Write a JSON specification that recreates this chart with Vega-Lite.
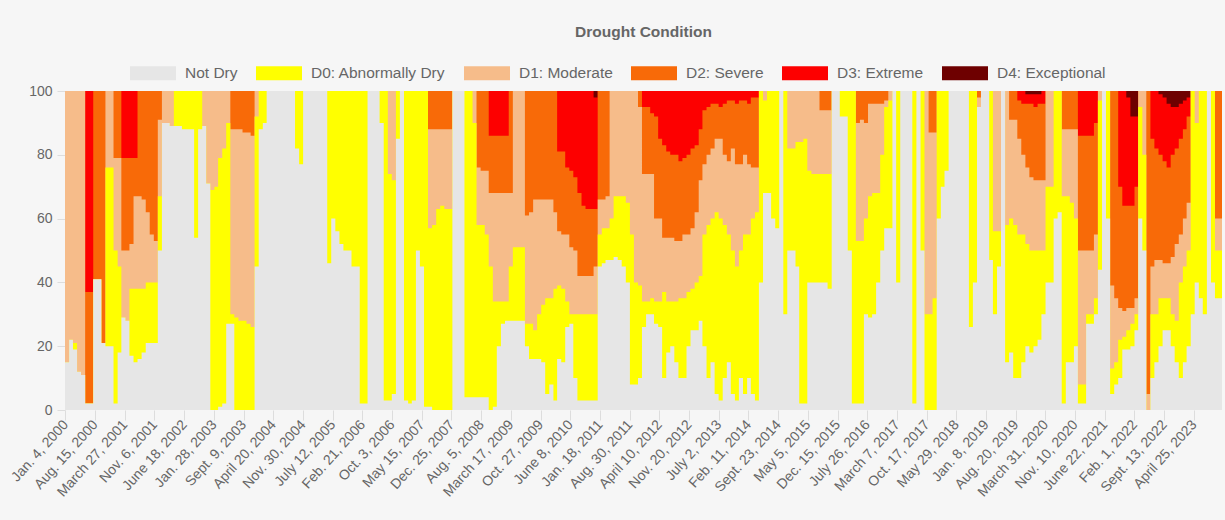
{
"$schema": "https://vega.github.io/schema/vega-lite/v6.json",
"width": 1157,
"height": 319,
"autosize": {"type": "none"},
"padding": {"left": 65, "top": 91, "right": 3, "bottom": 110},
"background": "#f6f6f6",
"title": {"text": "Drought Condition", "fontSize": 15.5, "fontWeight": "bold", "color": "#666666", "font": "Liberation Sans", "anchor": "middle", "offset": 10},
"data": {"values": [
{"date":"2000-01-01","nd":15,"d0":15,"d1":100,"d2":100,"d3":100},
{"date":"2000-02-01","nd":22,"d0":22,"d1":100,"d2":100,"d3":100},
{"date":"2000-03-01","nd":19,"d0":21,"d1":100,"d2":100,"d3":100},
{"date":"2000-04-01","nd":12,"d0":12,"d1":100,"d2":100,"d3":100},
{"date":"2000-05-01","nd":11,"d0":11,"d1":100,"d2":100,"d3":100},
{"date":"2000-06-01","nd":2,"d0":2,"d1":2,"d2":37,"d3":100},
{"date":"2000-07-01","nd":2,"d0":2,"d1":2,"d2":37,"d3":100},
{"date":"2000-08-01","nd":41,"d0":41,"d1":41,"d2":100,"d3":100},
{"date":"2000-09-01","nd":41,"d0":41,"d1":41,"d2":100,"d3":100},
{"date":"2000-10-01","nd":21,"d0":21,"d1":21,"d2":100,"d3":100},
{"date":"2000-11-01","nd":20,"d0":76,"d1":100,"d2":100,"d3":100},
{"date":"2000-12-01","nd":20,"d0":76,"d1":100,"d2":100,"d3":100},
{"date":"2001-01-01","nd":2,"d0":50,"d1":79,"d2":100,"d3":100},
{"date":"2001-02-01","nd":18,"d0":45,"d1":79,"d2":100,"d3":100},
{"date":"2001-03-01","nd":29,"d0":29,"d1":50,"d2":79,"d3":100},
{"date":"2001-04-01","nd":28,"d0":28,"d1":50,"d2":79,"d3":100},
{"date":"2001-05-01","nd":17,"d0":38,"d1":52,"d2":79,"d3":100},
{"date":"2001-06-01","nd":15,"d0":38,"d1":67,"d2":79,"d3":100},
{"date":"2001-07-01","nd":16,"d0":38,"d1":67,"d2":100,"d3":100},
{"date":"2001-08-01","nd":18,"d0":38,"d1":66,"d2":100,"d3":100},
{"date":"2001-09-01","nd":21,"d0":40,"d1":62,"d2":100,"d3":100},
{"date":"2001-10-01","nd":21,"d0":40,"d1":55,"d2":100,"d3":100},
{"date":"2001-11-01","nd":21,"d0":40,"d1":53,"d2":100,"d3":100},
{"date":"2001-12-01","nd":50,"d0":67,"d1":91,"d2":100,"d3":100},
{"date":"2002-01-01","nd":90,"d0":90,"d1":100,"d2":100,"d3":100},
{"date":"2002-02-01","nd":90,"d0":90,"d1":100,"d2":100,"d3":100},
{"date":"2002-03-01","nd":89,"d0":89,"d1":100,"d2":100,"d3":100},
{"date":"2002-04-01","nd":89,"d0":100,"d1":100,"d2":100,"d3":100},
{"date":"2002-05-01","nd":89,"d0":100,"d1":100,"d2":100,"d3":100},
{"date":"2002-06-01","nd":88,"d0":100,"d1":100,"d2":100,"d3":100},
{"date":"2002-07-01","nd":88,"d0":100,"d1":100,"d2":100,"d3":100},
{"date":"2002-08-01","nd":88,"d0":100,"d1":100,"d2":100,"d3":100},
{"date":"2002-09-01","nd":54,"d0":100,"d1":100,"d2":100,"d3":100},
{"date":"2002-10-01","nd":88,"d0":100,"d1":100,"d2":100,"d3":100},
{"date":"2002-11-01","nd":89,"d0":89,"d1":100,"d2":100,"d3":100},
{"date":"2002-12-01","nd":71,"d0":71,"d1":100,"d2":100,"d3":100},
{"date":"2003-01-01","nd":0,"d0":69,"d1":100,"d2":100,"d3":100},
{"date":"2003-02-01","nd":0,"d0":70,"d1":100,"d2":100,"d3":100},
{"date":"2003-03-01","nd":1,"d0":79,"d1":100,"d2":100,"d3":100},
{"date":"2003-04-01","nd":2,"d0":82,"d1":100,"d2":100,"d3":100},
{"date":"2003-05-01","nd":27,"d0":90,"d1":100,"d2":100,"d3":100},
{"date":"2003-06-01","nd":27,"d0":30,"d1":88,"d2":100,"d3":100},
{"date":"2003-07-01","nd":0,"d0":29,"d1":88,"d2":100,"d3":100},
{"date":"2003-08-01","nd":0,"d0":28,"d1":88,"d2":100,"d3":100},
{"date":"2003-09-01","nd":0,"d0":28,"d1":87,"d2":100,"d3":100},
{"date":"2003-10-01","nd":0,"d0":27,"d1":87,"d2":100,"d3":100},
{"date":"2003-11-01","nd":0,"d0":26,"d1":86,"d2":100,"d3":100},
{"date":"2003-12-01","nd":45,"d0":92,"d1":100,"d2":100,"d3":100},
{"date":"2004-01-01","nd":88,"d0":100,"d1":100,"d2":100,"d3":100},
{"date":"2004-02-01","nd":90,"d0":100,"d1":100,"d2":100,"d3":100},
{"date":"2004-03-01","nd":100,"d0":100,"d1":100,"d2":100,"d3":100},
{"date":"2004-10-01","nd":82,"d0":100,"d1":100,"d2":100,"d3":100},
{"date":"2004-11-01","nd":77,"d0":100,"d1":100,"d2":100,"d3":100},
{"date":"2004-12-01","nd":100,"d0":100,"d1":100,"d2":100,"d3":100},
{"date":"2005-06-01","nd":46,"d0":100,"d1":100,"d2":100,"d3":100},
{"date":"2005-07-01","nd":60,"d0":100,"d1":100,"d2":100,"d3":100},
{"date":"2005-08-01","nd":56,"d0":100,"d1":100,"d2":100,"d3":100},
{"date":"2005-09-01","nd":52,"d0":100,"d1":100,"d2":100,"d3":100},
{"date":"2005-10-01","nd":50,"d0":100,"d1":100,"d2":100,"d3":100},
{"date":"2005-11-01","nd":50,"d0":100,"d1":100,"d2":100,"d3":100},
{"date":"2005-12-01","nd":45,"d0":100,"d1":100,"d2":100,"d3":100},
{"date":"2006-01-01","nd":45,"d0":100,"d1":100,"d2":100,"d3":100},
{"date":"2006-02-01","nd":2,"d0":100,"d1":100,"d2":100,"d3":100},
{"date":"2006-03-01","nd":2,"d0":100,"d1":100,"d2":100,"d3":100},
{"date":"2006-04-01","nd":100,"d0":100,"d1":100,"d2":100,"d3":100},
{"date":"2006-07-01","nd":90,"d0":100,"d1":100,"d2":100,"d3":100},
{"date":"2006-08-01","nd":3,"d0":100,"d1":100,"d2":100,"d3":100},
{"date":"2006-09-01","nd":3,"d0":74,"d1":100,"d2":100,"d3":100},
{"date":"2006-10-01","nd":5,"d0":72,"d1":100,"d2":100,"d3":100},
{"date":"2006-11-01","nd":85,"d0":100,"d1":100,"d2":100,"d3":100},
{"date":"2006-12-01","nd":100,"d0":100,"d1":100,"d2":100,"d3":100},
{"date":"2007-01-01","nd":3,"d0":100,"d1":100,"d2":100,"d3":100},
{"date":"2007-02-01","nd":2,"d0":100,"d1":100,"d2":100,"d3":100},
{"date":"2007-03-01","nd":3,"d0":100,"d1":100,"d2":100,"d3":100},
{"date":"2007-04-01","nd":50,"d0":100,"d1":100,"d2":100,"d3":100},
{"date":"2007-05-01","nd":45,"d0":100,"d1":100,"d2":100,"d3":100},
{"date":"2007-06-01","nd":1,"d0":100,"d1":100,"d2":100,"d3":100},
{"date":"2007-07-01","nd":1,"d0":57,"d1":88,"d2":100,"d3":100},
{"date":"2007-08-01","nd":0,"d0":58,"d1":88,"d2":100,"d3":100},
{"date":"2007-09-01","nd":0,"d0":63,"d1":88,"d2":100,"d3":100},
{"date":"2007-10-01","nd":0,"d0":64,"d1":88,"d2":100,"d3":100},
{"date":"2007-11-01","nd":0,"d0":63,"d1":88,"d2":100,"d3":100},
{"date":"2007-12-01","nd":0,"d0":63,"d1":88,"d2":100,"d3":100},
{"date":"2008-01-01","nd":100,"d0":100,"d1":100,"d2":100,"d3":100},
{"date":"2008-04-01","nd":4,"d0":100,"d1":100,"d2":100,"d3":100},
{"date":"2008-05-01","nd":4,"d0":100,"d1":100,"d2":100,"d3":100},
{"date":"2008-06-01","nd":4,"d0":90,"d1":100,"d2":100,"d3":100},
{"date":"2008-07-01","nd":4,"d0":58,"d1":76,"d2":100,"d3":100},
{"date":"2008-08-01","nd":4,"d0":58,"d1":75,"d2":100,"d3":100},
{"date":"2008-09-01","nd":4,"d0":55,"d1":75,"d2":100,"d3":100},
{"date":"2008-10-01","nd":0,"d0":45,"d1":68,"d2":86,"d3":100},
{"date":"2008-11-01","nd":1,"d0":34,"d1":68,"d2":86,"d3":100},
{"date":"2008-12-01","nd":20,"d0":34,"d1":68,"d2":86,"d3":100},
{"date":"2009-01-01","nd":27,"d0":34,"d1":68,"d2":86,"d3":100},
{"date":"2009-02-01","nd":28,"d0":34,"d1":68,"d2":86,"d3":100},
{"date":"2009-03-01","nd":28,"d0":45,"d1":68,"d2":100,"d3":100},
{"date":"2009-04-01","nd":28,"d0":51,"d1":100,"d2":100,"d3":100},
{"date":"2009-07-01","nd":20,"d0":27,"d1":61,"d2":100,"d3":100},
{"date":"2009-08-01","nd":16,"d0":27,"d1":62,"d2":100,"d3":100},
{"date":"2009-09-01","nd":16,"d0":25,"d1":66,"d2":100,"d3":100},
{"date":"2009-10-01","nd":16,"d0":30,"d1":66,"d2":100,"d3":100},
{"date":"2009-11-01","nd":15,"d0":33,"d1":66,"d2":100,"d3":100},
{"date":"2009-12-01","nd":5,"d0":35,"d1":66,"d2":100,"d3":100},
{"date":"2010-01-01","nd":8,"d0":35,"d1":66,"d2":100,"d3":100},
{"date":"2010-02-01","nd":3,"d0":38,"d1":62,"d2":100,"d3":100},
{"date":"2010-03-01","nd":16,"d0":39,"d1":56,"d2":81,"d3":100},
{"date":"2010-04-01","nd":15,"d0":38,"d1":55,"d2":81,"d3":100},
{"date":"2010-05-01","nd":26,"d0":34,"d1":55,"d2":76,"d3":100},
{"date":"2010-06-01","nd":27,"d0":30,"d1":51,"d2":75,"d3":100},
{"date":"2010-07-01","nd":10,"d0":30,"d1":50,"d2":73,"d3":100},
{"date":"2010-08-01","nd":3,"d0":30,"d1":42,"d2":68,"d3":100},
{"date":"2010-09-01","nd":3,"d0":30,"d1":42,"d2":64,"d3":100},
{"date":"2010-10-01","nd":3,"d0":30,"d1":42,"d2":63,"d3":100},
{"date":"2010-11-01","nd":3,"d0":30,"d1":42,"d2":63,"d3":100},
{"date":"2010-12-01","nd":3,"d0":30,"d1":45,"d2":63,"d3":98},
{"date":"2011-01-01","nd":45,"d0":55,"d1":66,"d2":100,"d3":100},
{"date":"2011-02-01","nd":46,"d0":57,"d1":66,"d2":100,"d3":100},
{"date":"2011-03-01","nd":47,"d0":57,"d1":67,"d2":100,"d3":100},
{"date":"2011-04-01","nd":47,"d0":60,"d1":100,"d2":100,"d3":100},
{"date":"2011-05-01","nd":48,"d0":67,"d1":100,"d2":100,"d3":100},
{"date":"2011-06-01","nd":47,"d0":67,"d1":100,"d2":100,"d3":100},
{"date":"2011-07-01","nd":45,"d0":67,"d1":100,"d2":100,"d3":100},
{"date":"2011-08-01","nd":40,"d0":65,"d1":100,"d2":100,"d3":100},
{"date":"2011-09-01","nd":8,"d0":55,"d1":100,"d2":100,"d3":100},
{"date":"2011-10-01","nd":8,"d0":40,"d1":100,"d2":100,"d3":100},
{"date":"2011-11-01","nd":10,"d0":39,"d1":95,"d2":100,"d3":100},
{"date":"2011-12-01","nd":26,"d0":34,"d1":74,"d2":95,"d3":100},
{"date":"2012-01-01","nd":30,"d0":34,"d1":74,"d2":95,"d3":100},
{"date":"2012-02-01","nd":30,"d0":35,"d1":74,"d2":93,"d3":100},
{"date":"2012-03-01","nd":27,"d0":34,"d1":60,"d2":92,"d3":100},
{"date":"2012-04-01","nd":26,"d0":34,"d1":60,"d2":85,"d3":100},
{"date":"2012-05-01","nd":10,"d0":37,"d1":54,"d2":83,"d3":100},
{"date":"2012-06-01","nd":18,"d0":34,"d1":54,"d2":81,"d3":100},
{"date":"2012-07-01","nd":20,"d0":34,"d1":54,"d2":80,"d3":100},
{"date":"2012-08-01","nd":15,"d0":34,"d1":53,"d2":80,"d3":100},
{"date":"2012-09-01","nd":10,"d0":35,"d1":53,"d2":78,"d3":100},
{"date":"2012-10-01","nd":10,"d0":35,"d1":55,"d2":79,"d3":100},
{"date":"2012-11-01","nd":20,"d0":37,"d1":55,"d2":80,"d3":100},
{"date":"2012-12-01","nd":25,"d0":38,"d1":57,"d2":82,"d3":100},
{"date":"2013-01-01","nd":25,"d0":40,"d1":62,"d2":83,"d3":100},
{"date":"2013-02-01","nd":28,"d0":42,"d1":72,"d2":88,"d3":100},
{"date":"2013-03-01","nd":20,"d0":55,"d1":77,"d2":94,"d3":100},
{"date":"2013-04-01","nd":10,"d0":58,"d1":80,"d2":95,"d3":100},
{"date":"2013-05-01","nd":15,"d0":60,"d1":82,"d2":96,"d3":100},
{"date":"2013-06-01","nd":5,"d0":62,"d1":85,"d2":96,"d3":100},
{"date":"2013-07-01","nd":3,"d0":60,"d1":85,"d2":95,"d3":100},
{"date":"2013-08-01","nd":10,"d0":58,"d1":80,"d2":96,"d3":100},
{"date":"2013-09-01","nd":15,"d0":55,"d1":78,"d2":97,"d3":100},
{"date":"2013-10-01","nd":5,"d0":50,"d1":82,"d2":97,"d3":100},
{"date":"2013-11-01","nd":3,"d0":45,"d1":77,"d2":96,"d3":100},
{"date":"2013-12-01","nd":10,"d0":50,"d1":77,"d2":97,"d3":100},
{"date":"2014-01-01","nd":5,"d0":55,"d1":80,"d2":97,"d3":100},
{"date":"2014-02-01","nd":10,"d0":55,"d1":77,"d2":96,"d3":100},
{"date":"2014-03-01","nd":5,"d0":60,"d1":76,"d2":98,"d3":100},
{"date":"2014-04-01","nd":3,"d0":62,"d1":76,"d2":98,"d3":100},
{"date":"2014-05-01","nd":40,"d0":100,"d1":100,"d2":100,"d3":100},
{"date":"2014-06-01","nd":68,"d0":97,"d1":100,"d2":100,"d3":100},
{"date":"2014-07-01","nd":68,"d0":100,"d1":100,"d2":100,"d3":100},
{"date":"2014-08-01","nd":60,"d0":100,"d1":100,"d2":100,"d3":100},
{"date":"2014-09-01","nd":57,"d0":100,"d1":100,"d2":100,"d3":100},
{"date":"2014-10-01","nd":100,"d0":100,"d1":100,"d2":100,"d3":100},
{"date":"2014-11-01","nd":30,"d0":100,"d1":100,"d2":100,"d3":100},
{"date":"2014-12-01","nd":50,"d0":82,"d1":100,"d2":100,"d3":100},
{"date":"2015-01-01","nd":50,"d0":82,"d1":100,"d2":100,"d3":100},
{"date":"2015-02-01","nd":45,"d0":84,"d1":100,"d2":100,"d3":100},
{"date":"2015-03-01","nd":2,"d0":84,"d1":100,"d2":100,"d3":100},
{"date":"2015-04-01","nd":2,"d0":85,"d1":100,"d2":100,"d3":100},
{"date":"2015-05-01","nd":40,"d0":75,"d1":100,"d2":100,"d3":100},
{"date":"2015-06-01","nd":40,"d0":74,"d1":100,"d2":100,"d3":100},
{"date":"2015-08-01","nd":40,"d0":74,"d1":94,"d2":100,"d3":100},
{"date":"2015-10-01","nd":38,"d0":74,"d1":94,"d2":100,"d3":100},
{"date":"2015-11-01","nd":100,"d0":100,"d1":100,"d2":100,"d3":100},
{"date":"2016-01-01","nd":92,"d0":100,"d1":100,"d2":100,"d3":100},
{"date":"2016-03-01","nd":50,"d0":100,"d1":100,"d2":100,"d3":100},
{"date":"2016-04-01","nd":2,"d0":100,"d1":100,"d2":100,"d3":100},
{"date":"2016-05-01","nd":2,"d0":53,"d1":90,"d2":100,"d3":100},
{"date":"2016-06-01","nd":2,"d0":53,"d1":91,"d2":100,"d3":100},
{"date":"2016-07-01","nd":30,"d0":60,"d1":90,"d2":100,"d3":100},
{"date":"2016-08-01","nd":29,"d0":67,"d1":96,"d2":100,"d3":100},
{"date":"2016-09-01","nd":30,"d0":68,"d1":96,"d2":100,"d3":100},
{"date":"2016-10-01","nd":40,"d0":68,"d1":96,"d2":100,"d3":100},
{"date":"2016-11-01","nd":50,"d0":80,"d1":96,"d2":100,"d3":100},
{"date":"2016-12-01","nd":57,"d0":95,"d1":97,"d2":100,"d3":100},
{"date":"2017-01-01","nd":57,"d0":97,"d1":100,"d2":100,"d3":100},
{"date":"2017-02-01","nd":100,"d0":100,"d1":100,"d2":100,"d3":100},
{"date":"2017-03-01","nd":40,"d0":100,"d1":100,"d2":100,"d3":100},
{"date":"2017-04-01","nd":100,"d0":100,"d1":100,"d2":100,"d3":100},
{"date":"2017-07-01","nd":2,"d0":100,"d1":100,"d2":100,"d3":100},
{"date":"2017-08-01","nd":100,"d0":100,"d1":100,"d2":100,"d3":100},
{"date":"2017-09-01","nd":50,"d0":100,"d1":100,"d2":100,"d3":100},
{"date":"2017-10-01","nd":0,"d0":30,"d1":100,"d2":100,"d3":100},
{"date":"2017-11-01","nd":0,"d0":30,"d1":87,"d2":100,"d3":100},
{"date":"2017-12-01","nd":0,"d0":35,"d1":87,"d2":100,"d3":100},
{"date":"2018-01-01","nd":60,"d0":100,"d1":100,"d2":100,"d3":100},
{"date":"2018-02-01","nd":70,"d0":100,"d1":100,"d2":100,"d3":100},
{"date":"2018-03-01","nd":75,"d0":100,"d1":100,"d2":100,"d3":100},
{"date":"2018-04-01","nd":100,"d0":100,"d1":100,"d2":100,"d3":100},
{"date":"2018-09-01","nd":26,"d0":100,"d1":100,"d2":100,"d3":100},
{"date":"2018-10-01","nd":40,"d0":100,"d1":100,"d2":100,"d3":100},
{"date":"2018-11-01","nd":95,"d0":95,"d1":98,"d2":100,"d3":100},
{"date":"2018-12-01","nd":100,"d0":100,"d1":100,"d2":100,"d3":100},
{"date":"2019-02-01","nd":47,"d0":100,"d1":100,"d2":100,"d3":100},
{"date":"2019-03-01","nd":30,"d0":56,"d1":100,"d2":100,"d3":100},
{"date":"2019-04-01","nd":45,"d0":56,"d1":100,"d2":100,"d3":100},
{"date":"2019-05-01","nd":100,"d0":100,"d1":100,"d2":100,"d3":100},
{"date":"2019-06-01","nd":15,"d0":58,"d1":100,"d2":100,"d3":100},
{"date":"2019-07-01","nd":18,"d0":60,"d1":91,"d2":100,"d3":100},
{"date":"2019-08-01","nd":10,"d0":58,"d1":91,"d2":100,"d3":100},
{"date":"2019-09-01","nd":10,"d0":55,"d1":85,"d2":97,"d3":100},
{"date":"2019-10-01","nd":15,"d0":55,"d1":80,"d2":96,"d3":100},
{"date":"2019-11-01","nd":20,"d0":52,"d1":76,"d2":96,"d3":99},
{"date":"2019-12-01","nd":18,"d0":50,"d1":73,"d2":96,"d3":99},
{"date":"2020-01-01","nd":20,"d0":50,"d1":72,"d2":95,"d3":99},
{"date":"2020-02-01","nd":22,"d0":50,"d1":72,"d2":96,"d3":99},
{"date":"2020-03-01","nd":30,"d0":50,"d1":72,"d2":96,"d3":100},
{"date":"2020-04-01","nd":40,"d0":70,"d1":100,"d2":100,"d3":100},
{"date":"2020-06-01","nd":60,"d0":100,"d1":100,"d2":100,"d3":100},
{"date":"2020-07-01","nd":62,"d0":100,"d1":100,"d2":100,"d3":100},
{"date":"2020-08-01","nd":2,"d0":67,"d1":88,"d2":100,"d3":100},
{"date":"2020-09-01","nd":15,"d0":67,"d1":88,"d2":100,"d3":100},
{"date":"2020-10-01","nd":15,"d0":65,"d1":88,"d2":100,"d3":100},
{"date":"2020-11-01","nd":20,"d0":60,"d1":88,"d2":100,"d3":100},
{"date":"2020-12-01","nd":2,"d0":8,"d1":50,"d2":86,"d3":100},
{"date":"2021-02-01","nd":27,"d0":30,"d1":50,"d2":86,"d3":100},
{"date":"2021-04-01","nd":30,"d0":35,"d1":55,"d2":90,"d3":100},
{"date":"2021-05-01","nd":44,"d0":97,"d1":100,"d2":100,"d3":100},
{"date":"2021-06-01","nd":100,"d0":100,"d1":100,"d2":100,"d3":100},
{"date":"2021-07-01","nd":60,"d0":100,"d1":100,"d2":100,"d3":100},
{"date":"2021-08-01","nd":5,"d0":13,"d1":39,"d2":100,"d3":100},
{"date":"2021-09-01","nd":8,"d0":15,"d1":35,"d2":100,"d3":100},
{"date":"2021-10-01","nd":10,"d0":22,"d1":32,"d2":70,"d3":100},
{"date":"2021-11-01","nd":19,"d0":23,"d1":31,"d2":64,"d3":100},
{"date":"2021-12-01","nd":19,"d0":25,"d1":32,"d2":64,"d3":98},
{"date":"2022-01-01","nd":20,"d0":27,"d1":32,"d2":64,"d3":92},
{"date":"2022-02-01","nd":25,"d0":30,"d1":35,"d2":70,"d3":92},
{"date":"2022-03-01","nd":60,"d0":95,"d1":100,"d2":100,"d3":100},
{"date":"2022-04-01","nd":50,"d0":80,"d1":100,"d2":100,"d3":100},
{"date":"2022-05-01","nd":0,"d0":0,"d1":5,"d2":100,"d3":100},
{"date":"2022-06-01","nd":10,"d0":30,"d1":45,"d2":85,"d3":100},
{"date":"2022-07-01","nd":15,"d0":30,"d1":47,"d2":82,"d3":100},
{"date":"2022-08-01","nd":20,"d0":35,"d1":47,"d2":80,"d3":99},
{"date":"2022-09-01","nd":25,"d0":35,"d1":46,"d2":78,"d3":98},
{"date":"2022-10-01","nd":25,"d0":35,"d1":46,"d2":76,"d3":96},
{"date":"2022-11-01","nd":20,"d0":30,"d1":48,"d2":80,"d3":95},
{"date":"2022-12-01","nd":15,"d0":28,"d1":52,"d2":82,"d3":95},
{"date":"2023-01-01","nd":10,"d0":40,"d1":55,"d2":85,"d3":96},
{"date":"2023-02-01","nd":15,"d0":45,"d1":60,"d2":88,"d3":97},
{"date":"2023-03-01","nd":20,"d0":50,"d1":65,"d2":92,"d3":98},
{"date":"2023-04-01","nd":30,"d0":100,"d1":100,"d2":100,"d3":100},
{"date":"2023-05-01","nd":40,"d0":90,"d1":100,"d2":100,"d3":100},
{"date":"2023-06-01","nd":35,"d0":100,"d1":100,"d2":100,"d3":100},
{"date":"2023-07-01","nd":30,"d0":100,"d1":100,"d2":100,"d3":100},
{"date":"2023-08-01","nd":100,"d0":100,"d1":100,"d2":100,"d3":100},
{"date":"2023-09-01","nd":40,"d0":100,"d1":100,"d2":100,"d3":100},
{"date":"2023-10-01","nd":35,"d0":50,"d1":60,"d2":100,"d3":100},
{"date":"2023-11-23","nd":35,"d0":50,"d1":60,"d2":100,"d3":100}
]},
"encoding": {
  "x": {"field": "date", "type": "temporal",
    "scale": {"type": "utc", "domain": [{"year": 2000, "month": 1, "date": 1, "utc": true}, {"year": 2023, "month": 11, "date": 23, "utc": true}]},
    "axis": {"title": null, "grid": false, "domain": false, "tickColor": "#dddddd", "tickSize": 10,
      "labelAngle": -48, "labelFontSize": 14, "labelColor": "#666666", "labelFont": "Liberation Sans", "labelOverlap": false, "labelFlush": false, "labelPadding": 2,
      "labelExpr": "['Jan.','Feb.','March','April','May','June','July','Aug.','Sept.','Oct.','Nov.','Dec.'][utcmonth(datum.value)] + ' ' + utcdate(datum.value) + ', ' + utcyear(datum.value)",
      "values": [
        {"year":2000,"month":1,"date":4,"utc":true},{"year":2000,"month":8,"date":15,"utc":true},{"year":2001,"month":3,"date":27,"utc":true},{"year":2001,"month":11,"date":6,"utc":true},
        {"year":2002,"month":6,"date":18,"utc":true},{"year":2003,"month":1,"date":28,"utc":true},{"year":2003,"month":9,"date":9,"utc":true},{"year":2004,"month":4,"date":20,"utc":true},
        {"year":2004,"month":11,"date":30,"utc":true},{"year":2005,"month":7,"date":12,"utc":true},{"year":2006,"month":2,"date":21,"utc":true},{"year":2006,"month":10,"date":3,"utc":true},
        {"year":2007,"month":5,"date":15,"utc":true},{"year":2007,"month":12,"date":25,"utc":true},{"year":2008,"month":8,"date":5,"utc":true},{"year":2009,"month":3,"date":17,"utc":true},
        {"year":2009,"month":10,"date":27,"utc":true},{"year":2010,"month":6,"date":8,"utc":true},{"year":2011,"month":1,"date":18,"utc":true},{"year":2011,"month":8,"date":30,"utc":true},
        {"year":2012,"month":4,"date":10,"utc":true},{"year":2012,"month":11,"date":20,"utc":true},{"year":2013,"month":7,"date":2,"utc":true},{"year":2014,"month":2,"date":11,"utc":true},
        {"year":2014,"month":9,"date":23,"utc":true},{"year":2015,"month":5,"date":5,"utc":true},{"year":2015,"month":12,"date":15,"utc":true},{"year":2016,"month":7,"date":26,"utc":true},
        {"year":2017,"month":3,"date":7,"utc":true},{"year":2017,"month":10,"date":17,"utc":true},{"year":2018,"month":5,"date":29,"utc":true},{"year":2019,"month":1,"date":8,"utc":true},
        {"year":2019,"month":8,"date":20,"utc":true},{"year":2020,"month":3,"date":31,"utc":true},{"year":2020,"month":11,"date":10,"utc":true},{"year":2021,"month":6,"date":22,"utc":true},
        {"year":2022,"month":2,"date":1,"utc":true},{"year":2022,"month":9,"date":13,"utc":true},{"year":2023,"month":4,"date":25,"utc":true}
      ]}}
},
"layer": [
  {"mark": {"type": "area", "interpolate": "step-after"},
   "encoding": {
     "y": {"datum": 100, "type": "quantitative", "stack": null,
       "scale": {"domain": [0, 100], "nice": false},
       "axis": {"title": null, "grid": false, "domain": false, "values": [0,10,20,30,40,50,60,70,80,90,100], "tickColor": "#dddddd", "tickSize": 8, "labelPadding": 5, "labelFontSize": 14, "labelColor": "#666666", "labelFont": "Liberation Sans"}},
     "color": {"datum": "D4: Exceptional", "type": "nominal",
       "scale": {"domain": ["Not Dry", "D0: Abnormally Dry", "D1: Moderate", "D2: Severe", "D3: Extreme", "D4: Exceptional"],
                 "range": ["#e6e6e6", "#ffff00", "#f6bc8a", "#f86a08", "#fd0000", "#6e0000"]},
       "legend": {"title": null, "orient": "none", "legendX": 65, "legendY": -41, "direction": "horizontal",
         "symbolType": "M-1,-0.3H1V0.3H-1Z", "symbolSize": 2116, "symbolStrokeWidth": 0, "symbolOpacity": 1,
         "labelFontSize": 15.5, "labelColor": "#666666", "labelFont": "Liberation Sans", "labelOffset": 9, "columnPadding": 18, "padding": 0}}}},
  {"mark": {"type": "area", "interpolate": "step-after"},
   "encoding": {"y": {"field": "d3", "type": "quantitative", "stack": null}, "color": {"datum": "D3: Extreme", "type": "nominal"}}},
  {"mark": {"type": "area", "interpolate": "step-after"},
   "encoding": {"y": {"field": "d2", "type": "quantitative", "stack": null}, "color": {"datum": "D2: Severe", "type": "nominal"}}},
  {"mark": {"type": "area", "interpolate": "step-after"},
   "encoding": {"y": {"field": "d1", "type": "quantitative", "stack": null}, "color": {"datum": "D1: Moderate", "type": "nominal"}}},
  {"mark": {"type": "area", "interpolate": "step-after"},
   "encoding": {"y": {"field": "d0", "type": "quantitative", "stack": null}, "color": {"datum": "D0: Abnormally Dry", "type": "nominal"}}},
  {"mark": {"type": "area", "interpolate": "step-after"},
   "encoding": {"y": {"field": "nd", "type": "quantitative", "stack": null}, "color": {"datum": "Not Dry", "type": "nominal"}}}
],
"config": {"view": {"stroke": null}, "font": "Liberation Sans"}
}
